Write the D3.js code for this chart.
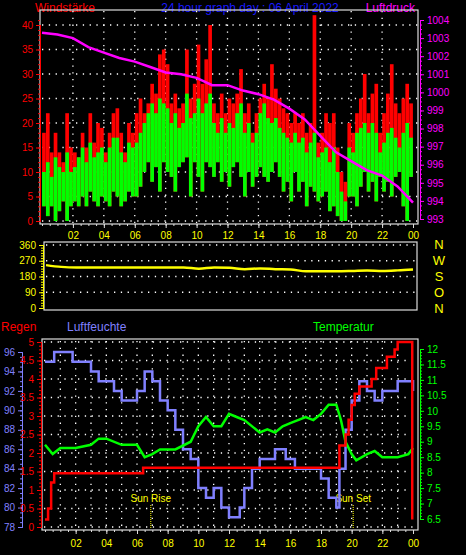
<!DOCTYPE html><html><head><meta charset="utf-8">
<script src="https://cdn.jsdelivr.net/npm/d3@7"></script>
<style>body{margin:0;background:#000}svg{display:block}text{font-family:"Liberation Sans",Arial,sans-serif}</style></head><body>
<script>
const gust=[18,22,14,18,14,12,22,15, 14,13,18,15,22,16,20,19, 14,18,22,23,18,14,20,18, 22,25,22,24,28,26,34,35, 32,24,26,23,24,35,25,28, 36,28,33,40,24,22,26,22, 25,24,26,31,22,24,18,22, 25,28,25,32,27,25,23,22, 20,22,20,22,18,20,42,16, 18,22,20,22,15,10,8,20, 18,22,25,30,22,26,28,18, 22,26,32,24,22,25,28,24];
const windAvg=[10,12,9,13,11,10,14,10, 11,13,15,12,16,13,14,15, 12,15,17,17,14,12,16,15, 16,18,20,22,24,22,25,24, 23,20,22,19,20,26,21,22, 25,22,24,26,20,18,21,18, 20,19,22,24,18,20,16,18, 22,24,21,20,21,19,18,17, 16,18,16,17,14,16,18,13, 14,15,12,15,10,6,4,15, 14,18,19,20,18,20,18,14, 16,18,19,17,15,18,20,17];
const windLow=[3,1,3,0,2,4,0,3, 4,3,5,3,6,4,3,5, 4,3,6,5,3,4,6,5, 5,7,10,12,8,11,6,12, 10,9,6,11,12,13,5,12, 9,6,12,11,9,12,8,10, 7,11,12,9,5,10,7,9, 11,9,8,10,12,9,6,8, 4,10,6,8,3,7,6,4, 5,6,2,3,1,0,0,5, 5,3,7,10,6,8,4,9, 6,8,5,9,10,3,0,9];
const pressure=[1003.3,1003.2,1003.0,1002.5,1002.2,1001.9,1001.7,1001.4,1001.1,1001.0,1000.8,1000.4,1000.4,1000.1,999.9,999.6,999.1,998.5,997.6,996.7,996.2,995.7,995.4,994.8,993.9];
const direction=[245,235,232,232,232,232,232,232,232,232,225,232,230,222,226,222,220,210,210,210,212,215,212,215,220];
const humT=[0,0.6,1.8,3,3.5,4.5,5,6,6.5,7,7.5,8,8.5,9,9.5,10,10.5,11,11.5,12,12.7,13,13.5,14,15,15.7,16.3,18,18.5,19,19.2,19.6,20,20.5,21,21.5,22,23,24];
const humV=[95,96,95,94,93,92,91,92,94,93,91,90,88,86,85,82,81,82,80,79,80,82,84,85,86,85,84,83,81,80,84,88,91,93,92,91,92,93,92];
const tempT=[0,0.5,1,2,3,3.5,4,5,6,6.5,7,7.5,8.5,9.5,10,10.5,11,11.5,12,12.5,13,14,14.5,15,15.5,16,17,17.5,18,18.5,19,19.3,19.6,20,20.3,21,21.5,22,23,23.7,24];
const tempV=[8.9,8.6,8.8,8.8,8.9,9.1,9.1,8.9,8.9,8.5,8.6,8.75,8.75,9.0,9.5,9.8,9.5,9.5,9.9,9.8,9.7,9.3,9.4,9.3,9.5,9.6,9.8,9.7,9.9,10.2,10.2,9.7,9.0,8.6,8.4,8.6,8.7,8.5,8.5,8.6,8.8];
const rainT=[0,0.2,0.4,0.6,6.4,19.0,19.2,19.6,19.8,20.0,20.2,20.5,21.3,21.6,22.3,22.8,23,23.9,23.95];
const rainV=[0.2,0.5,1.2,1.45,1.6,1.6,2.2,2.5,2.9,3.3,3.6,3.8,4.0,4.3,4.6,4.8,5.0,5.0,0.2];
const hourLabels=["02","04","06","08","10","12","14","16","18","20","22","00"];
const hourTicks=[2,4,6,8,10,12,14,16,18,20,22,24];
const compass=["N","W","S","O","N"];

const svg=d3.select("body").append("svg").attr("width",466).attr("height",555).style("background","#000");
function txt(x,y,s,c,size,anchor){return svg.append("text").attr("x",x).attr("y",y).attr("fill",c).attr("font-size",size||12).attr("text-anchor",anchor||"start").text(s);}
function dotted(x1,y1,x2,y2){svg.append("line").attr("x1",x1).attr("y1",y1).attr("x2",x2).attr("y2",y2).attr("stroke","#fff").attr("stroke-width",1.3).attr("stroke-dasharray","1.3,5.5");}
function axis(gen,x,y,color){const g=svg.append("g").attr("transform",`translate(${x},${y})`).call(gen);
 g.selectAll("path,line").attr("stroke",color);g.selectAll("text").attr("fill",color).attr("font-size",10).attr("font-family","Liberation Sans, Arial");return g;}
const fmt=d3.format("~g");

// ---- Top panel
const xT=d3.scaleLinear([0,24],[42,413]);
const yW=d3.scaleLinear([0,40],[221,25]);
const yP=d3.scaleLinear([993,1004],[219,20]);
txt(35,12,"Windstärke","#f00",12);
txt(250,12,"24 hour graph day : 06 April 2022","#1a1aff",12,"middle");
txt(415,12,"Luftdruck","#f0f",12,"end");
d3.range(0,45,5).forEach(v=>dotted(42,yW(v),418,yW(v)));
hourTicks.slice(0,11).forEach(h=>dotted(xT(h),11,xT(h),223));
const bw=(xT(0.25)-xT(0))*0.95;
gust.forEach((g,i)=>{const x=xT(i*0.25+0.125)-bw/2;
 svg.append("rect").attr("x",x).attr("width",bw).attr("y",yW(g)).attr("height",yW(windLow[i])-yW(g)).attr("fill","#f00");});
windAvg.forEach((a,i)=>{const x=xT(i*0.25+0.125)-bw/2;
 svg.append("rect").attr("x",x).attr("width",bw).attr("y",yW(a)).attr("height",yW(windLow[i])-yW(a)).attr("fill","#0f0");});
svg.append("path").datum(pressure).attr("d",d3.line().x((d,i)=>xT(i)).y(d=>yP(d)))
 .attr("fill","none").attr("stroke","#f0f").attr("stroke-width",2.5);
svg.append("rect").attr("x",40).attr("y",10).attr("width",378).attr("height",214).attr("fill","none").attr("stroke","#ddd").attr("stroke-width",1.2);
axis(d3.axisLeft(yW).tickValues(d3.range(0,45,5)).tickSize(4).tickPadding(3).tickFormat(fmt),40,0,"#f00");
axis(d3.axisLeft(yW).tickValues(d3.range(0,42,1)).tickSize(2).tickFormat(""),40,0,"#f00");
axis(d3.axisRight(yP).tickValues(d3.range(993,1005,1)).tickSize(4).tickPadding(3).tickFormat(d3.format("d")),420,0,"#f0f");
axis(d3.axisRight(yP).tickValues(d3.range(993,1004.1,0.25)).tickSize(2).tickFormat(""),420,0,"#f0f");
const ax=axis(d3.axisBottom(xT).tickValues(hourTicks).tickFormat((d,i)=>hourLabels[i]).tickSize(4).tickPadding(4),0,224,"#ff0");
ax.select("path").remove();ax.selectAll("line").attr("stroke","#ddd");
axis(d3.axisBottom(xT).tickValues(d3.range(0,24.1,0.5)).tickSize(2).tickFormat(""),0,224,"#ddd").select("path").remove();

// ---- Middle panel
const xM=d3.scaleLinear([0,24],[46,413]);
const yD=d3.scaleLinear([0,360],[308,245]);
[90,180,270,360].forEach(v=>dotted(46,yD(v),415,yD(v)));
svg.append("path").datum(direction).attr("d",d3.line().x((d,i)=>xM(i)).y(d=>yD(d)).curve(d3.curveMonotoneX))
 .attr("fill","none").attr("stroke","#ff0").attr("stroke-width",2.5);
svg.append("rect").attr("x",44).attr("y",242).attr("width",373).attr("height",68).attr("fill","none").attr("stroke","#ddd").attr("stroke-width",1.2);
axis(d3.axisLeft(yD).tickValues([0,90,180,270,360]).tickSize(4).tickPadding(3),43,0,"#ff0");
axis(d3.axisLeft(yD).tickValues(d3.range(0,361,15)).tickSize(2).tickFormat(""),43,0,"#ff0");
compass.forEach((c,i)=>txt(439,249+i*16,c,"#ff0",13,"middle"));

// ---- Bottom panel
const xB=d3.scaleLinear([0,24],[45,413]);
const yR=d3.scaleLinear([0,5],[527,342]);
const yH=d3.scaleLinear([78,96],[527,352]);
const yTp=d3.scaleLinear([6.5,12],[519,349]);
txt(1,331,"Regen","#f00",12);txt(67,331,"Luftfeuchte","#8080ff",12);txt(313,331,"Temperatur","#0f0",12);
d3.range(0,5.1,0.5).forEach(v=>dotted(44,yR(v),417,yR(v)));
d3.range(1,24,1).forEach(h=>dotted(xB(h),341,xB(h),529));
const sun=[[6.9,"Sun Rise"],[20.1,"Sun Set"]];
sun.forEach(([h,l])=>{txt(xB(h),502,l,"#ff0",10,"middle");
 svg.append("line").attr("x1",xB(h)).attr("x2",xB(h)).attr("y1",505).attr("y2",528).attr("stroke","#ff0").attr("stroke-dasharray","1,1");});
const hp=humT.map((t,i)=>[t,humV[i]]);
svg.append("path").datum(hp).attr("d",d3.line().x(d=>xB(d[0])).y(d=>yH(d[1])).curve(d3.curveStepAfter)).attr("fill","none").attr("stroke","#8080ff").attr("stroke-width",2.5);
const tp=tempT.map((t,i)=>[t,tempV[i]]);
svg.append("path").datum(tp).attr("d",d3.line().x(d=>xB(d[0])).y(d=>yTp(d[1]))).attr("fill","none").attr("stroke","#0f0").attr("stroke-width",2.5);
const rp=rainT.map((t,i)=>[t,rainV[i]]);
svg.append("path").datum(rp).attr("d",d3.line().x(d=>xB(d[0])).y(d=>yR(d[1])).curve(d3.curveStepAfter)).attr("fill","none").attr("stroke","#f00").attr("stroke-width",2.5);
svg.append("rect").attr("x",42).attr("y",339).attr("width",376).attr("height",191).attr("fill","none").attr("stroke","#ddd").attr("stroke-width",1.2);
axis(d3.axisLeft(yH).tickValues(d3.range(78,97,2)).tickSize(4).tickPadding(3),22,0,"#8080ff");
axis(d3.axisLeft(yH).tickValues(d3.range(78,96.1,0.5)).tickSize(2).tickFormat(""),22,0,"#8080ff");
axis(d3.axisLeft(yR).tickValues(d3.range(0,5.1,0.5)).tickSize(4).tickPadding(3).tickFormat(fmt),41,0,"#f00");
axis(d3.axisLeft(yR).tickValues(d3.range(0,5.01,0.1)).tickSize(2).tickFormat(""),41,0,"#f00");
axis(d3.axisRight(yTp).tickValues(d3.range(6.5,12.1,0.5)).tickSize(4).tickPadding(3).tickFormat(fmt),420,0,"#0f0");
axis(d3.axisRight(yTp).tickValues(d3.range(6.5,12.01,0.1)).tickSize(2).tickFormat(""),420,0,"#0f0");
const bx=axis(d3.axisBottom(xB).tickValues(hourTicks).tickFormat((d,i)=>hourLabels[i]).tickSize(4).tickPadding(6),0,530,"#ff0");
bx.select("path").remove();bx.selectAll("line").attr("stroke","#ddd");
axis(d3.axisBottom(xB).tickValues(d3.range(0,24.1,0.5)).tickSize(2).tickFormat(""),0,530,"#ddd").select("path").remove();
</script></body></html>
